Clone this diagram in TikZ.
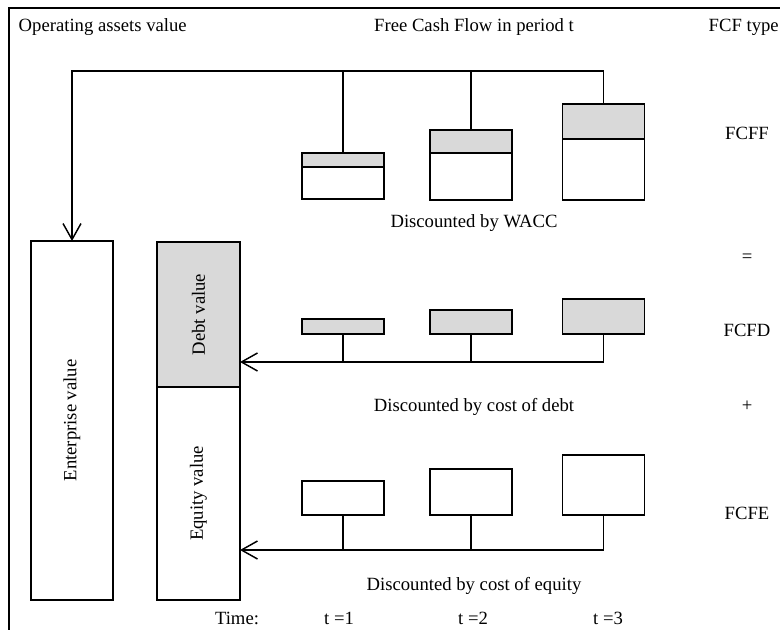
\documentclass[tikz,border=0pt]{standalone}
\usepackage{fontspec}
\setmainfont{Liberation Serif}
\usetikzlibrary{arrows.meta}
\newdimen\pxu \pxu=0.75pt

\begin{document}
\begin{tikzpicture}[x=0.75pt, y=-0.75pt, line width=1.1pt, font=\fontsize{14}{16}\selectfont,
	lbl/.style={inner sep=0pt},
	cashbox/.style={draw, inner sep=0pt, outer sep=0pt, minimum width=82\pxu},
	debtpart/.style={cashbox, fill=black!15},
	tip/.style={-{Straight Barb[length=12pt, width=13.5pt]}}]
	\useasboundingbox (0,0) rectangle (780,630);
	\draw[line width=1.6pt] (9,640) |- (790,8);
	\node[lbl, anchor=west] (opv) at (18,27) {Operating assets value};
	\node[lbl] (fcfhd) at (474,27) {Free Cash Flow in period t};
	\node[lbl, anchor=west] (typhd) at (708,27) {FCF type};
	\node[debtpart, anchor=south, minimum height=14\pxu] (f1d) at (343,167) {};
	\node[cashbox, anchor=north, minimum height=32\pxu] (f1e) at (343,167) {};
	\node[debtpart, anchor=south, minimum height=23\pxu] (f2d) at (471,153) {};
	\node[cashbox, anchor=north, minimum height=47\pxu] (f2e) at (471,153) {};
	\node[debtpart, anchor=south, minimum height=35\pxu] (f3d) at (603.5,139) {};
	\node[cashbox, anchor=north, minimum height=61\pxu] (f3e) at (603.5,139) {};
	\node[debtpart, anchor=south, minimum height=15\pxu] (d1) at (343,334) {};
	\node[debtpart, anchor=south, minimum height=24\pxu] (d2) at (471,334) {};
	\node[debtpart, anchor=south, minimum height=35\pxu] (d3) at (603.5,334) {};
	\node[cashbox, anchor=south, minimum height=34\pxu] (e1) at (343,515) {};
	\node[cashbox, anchor=south, minimum height=46\pxu] (e2) at (471,515) {};
	\node[cashbox, anchor=south, minimum height=60\pxu] (e3) at (603.5,515) {};
	\node[cashbox, minimum height=359\pxu] (ev) at (72,420.5) {\rotatebox{90}{Enterprise value}};
	\node[debtpart, minimum width=83\pxu, minimum height=145\pxu] (dv) at (198.5,314.5) {\rotatebox{90}{Debt value}};
	\node[cashbox, minimum width=83\pxu, minimum height=213\pxu] (eqv) at (198.5,493.5) {\rotatebox{90}{Equity value}};
	\node[lbl] (wacc) at (474,223) {Discounted by WACC};
	\node[lbl] (kd) at (474,407) {Discounted by cost of debt};
	\node[lbl] (ke) at (474,586) {Discounted by cost of equity};
	\node[lbl] (fcff) at (747,133) {FCFF};
	\node[lbl] (eqs) at (747,258) {=};
	\node[lbl] (fcfd) at (747,330) {FCFD};
	\node[lbl] (pls) at (747,406) {+};
	\node[lbl] (fcfe) at (747,513) {FCFE};
	\node[lbl] (tm) at (237,618) {Time:};
	\node[lbl] (t1) at (339,618) {t =1};
	\node[lbl] (t2) at (473,618) {t =2};
	\node[lbl] (t3) at (608,618) {t =3};
	\coordinate (frail) at (72,71);
	\coordinate (drail) at (0,362);
	\coordinate (erail) at (0,550);
	\draw[tip] (f3d.north) |- (frail) -- (ev.north);
	\draw (f1d.north) -- (f1d.north |- frail);
	\draw (f2d.north) -- (f2d.north |- frail);
	\draw[tip] (d3.south) |- (dv.east |- drail);
	\draw (d1.south) -- (d1.south |- drail);
	\draw (d2.south) -- (d2.south |- drail);
	\draw[tip] (e3.south) |- (eqv.east |- erail);
	\draw (e1.south) -- (e1.south |- erail);
	\draw (e2.south) -- (e2.south |- erail);
\end{tikzpicture}
\end{document}
